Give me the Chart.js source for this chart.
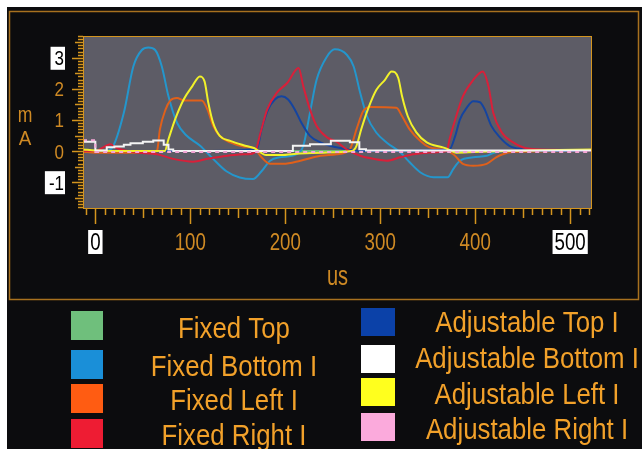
<!DOCTYPE html>
<html>
<head>
<meta charset="utf-8">
<script src="https://cdn.jsdelivr.net/npm/chart.js@4/dist/chart.umd.min.js"></script>
<style>
  html, body { margin: 0; padding: 0; background: #fff; }
  canvas { display: block; }
</style>
</head>
<body>
<canvas id="scope" width="644" height="449"></canvas>
<script>
// --- data (time in us, current in mA) ---
const seriesNames = [
  'Fixed Top', 'Fixed Bottom I', 'Fixed Left I', 'Fixed Right I',
  'Adjustable Top I', 'Adjustable Bottom I', 'Adjustable Left I', 'Adjustable Right I'
];

const fixedTopX = [-13, 0, 523];
const fixedTopY = [0.05, 0, 0];

const fixedBottomX = [-13, 0, 10, 18, 30, 40, 49, 56, 63, 70, 77, 86, 96, 110, 124, 138, 152, 166, 175, 184,
  194, 212, 219, 226, 233, 244, 252, 265, 272, 279, 286, 296, 307, 321, 331, 342, 356, 371, 377, 384,
  398, 412, 419, 430, 523];
const fixedBottomY = [0, 0, 0, 0.12, 1.23, 2.72, 3.25, 3.33, 3.25, 2.72, 1.76, 0.91, 0.5, 0.18, -0.25, -0.65, -0.85, -0.9, -0.65, -0.31,
  -0.2, -0.1, 0.17, 1.23, 2.29, 3.04, 3.27, 3.09, 2.72, 1.86, 1.12, 0.59, 0.27, -0.04, -0.36, -0.68, -0.84, -0.84, -0.57, -0.31,
  -0.2, -0.15, -0.06, 0, 0];

const fixedLeftX = [-13, 0, 20, 40, 60, 65, 68, 74, 79, 86, 93, 112, 118, 124, 131, 142, 156, 167, 175, 184,
  198, 216, 237, 254, 268, 275, 282, 289, 317, 323, 331, 342, 352, 366, 377, 387, 398, 412, 422, 429, 440, 523];
const fixedLeftY = [-0.02, -0.05, -0.05, -0.05, -0.05, 0.02, 0.7, 1.34, 1.63, 1.71, 1.63, 1.63, 1.34, 0.81, 0.49, 0.28, 0.15, 0.09, -0.2, -0.41,
  -0.41, -0.31, -0.15, -0.1, 0.06, 0.7, 1.28, 1.42, 1.39, 1.12, 0.7, 0.33, 0.12, 0.06, -0.1, -0.41, -0.47, -0.41, -0.2, -0.1, -0.03, 0];

const fixedRightX = [-13, 0, 5, 12, 16, 21, 30, 45, 65, 82, 103, 118, 139, 160, 168, 174, 181, 191, 202, 214,
  219, 226, 233, 244, 254, 265, 279, 293, 307, 321, 335, 350, 370, 373, 380, 387, 398, 408, 414, 419,
  428, 440, 454, 482, 523];
const fixedRightY = [0, 0, 0.06, 0.18, 0.22, 0.12, 0.03, -0.05, -0.1, -0.25, -0.34, -0.25, -0.15, -0.1, -0.04, 0.6, 1.34, 1.87, 2.19, 2.67,
  2.08, 1.34, 0.81, 0.44, 0.3, 0.05, -0.15, -0.25, -0.31, -0.2, -0.1, -0.05, 0, 0.38, 1.12, 1.76, 2.29, 2.56, 2.08, 1.23,
  0.6, 0.28, 0.09, 0.04, 0.02];

const adjTopX = [-13, 0, 100, 170, 175, 182, 189, 196, 203, 210, 217, 226, 237, 247, 258, 280, 373, 379, 384, 391,
  398, 405, 410, 417, 426, 436, 450, 480, 523];
const adjTopY = [0, 0, 0, 0.06, 0.7, 1.34, 1.66, 1.76, 1.66, 1.34, 0.91, 0.49, 0.28, 0.17, 0.1, 0, 0.06, 0.49, 1.02, 1.39,
  1.6, 1.57, 1.34, 0.81, 0.44, 0.17, 0.06, 0, 0];

// stepped trace: each value holds until the next x
const adjBottomX = [-13, 0, 12, 20, 30, 37, 50, 61, 72, 77, 82, 200, 208, 226, 248, 268, 278, 285, 523];
const adjBottomY = [0.3, 0.02, 0.12, 0.15, 0.2, 0.25, 0.3, 0.34, 0.2, 0.05, 0, 0, 0.17, 0.22, 0.33, 0.28, 0.06, 0.02, 0.02];

const adjLeftX = [-13, 0, 40, 73, 77, 84, 93, 102, 110, 115, 119, 124, 131, 142, 156, 167, 180, 195, 215, 240,
  270, 275, 280, 287, 296, 305, 312, 319, 323, 329, 338, 349, 366, 373, 380, 400, 470, 523];
const adjLeftY = [0.05, 0.02, 0, 0, 0.38, 1.02, 1.66, 2.08, 2.4, 2.24, 1.55, 0.91, 0.49, 0.33, 0.19, 0.1, -0.13, -0.13, -0.08, -0.05,
  0, 0.17, 0.7, 1.34, 1.97, 2.29, 2.56, 2.35, 1.76, 1.12, 0.6, 0.28, 0.12, 0.04, -0.05, -0.03, 0.03, 0.05];

const adjRightX = [-13, 0, 523];
const adjRightY = [0.35, -0.03, -0.03];

const xTickValues = [0, 100, 200, 300, 400, 500];
const yTickValues = [-1, 0, 1, 2, 3];
const boxedX = [0, 500];
const boxedY = [-1, 3];

// --- styles ---
const ORANGE = '#cf8a24';
const RULER = '#d4951f';
const LEGEND_TEXT = '#f2a12a';
const FONT = '"Liberation Sans", Arial, sans-serif';

const lineColors = ['#6cbf78', '#2496cc', '#e0601a', '#d8203a', '#1444a0', '#f4f4f4', '#f2f22a', '#f4a6d6'];
const swatchColors = ['#6fbf7c', '#1a8fd8', '#ff5c12', '#ee1c33', '#0b41a8', '#ffffff', '#ffff1e', '#fbaadc'];
// lower = drawn on top
const drawOrder = [8, 7, 6, 4, 5, 2, 3, 1];

function pts(xs, ys) {
  return xs.map((x, i) => ({ x: x, y: ys[i] }));
}

const allX = [fixedTopX, fixedBottomX, fixedLeftX, fixedRightX, adjTopX, adjBottomX, adjLeftX, adjRightX];
const allY = [fixedTopY, fixedBottomY, fixedLeftY, fixedRightY, adjTopY, adjBottomY, adjLeftY, adjRightY];

const datasets = seriesNames.map((name, i) => ({
  label: name,
  data: pts(allX[i], allY[i]),
  borderColor: lineColors[i],
  backgroundColor: swatchColors[i],
  borderWidth: 2,
  order: drawOrder[i],
  stepped: (i === 5 || i === 7) ? 'before' : false,
  borderDash: i === 7 ? [4, 4] : []
}));

// legend layout (two columns of four)
const legendLayout = {
  swatchX: [71, 361], swatchW: [32, 34],
  swatchTop: [[311, 350, 384, 419], [308, 345, 378, 413]],
  swatchH: [29, 28],
  textX: [234, 527],
  baseline: [[338, 376, 410, 445], [332, 368, 404, 439]]
};

// the scope font is a condensed one; squeeze Liberation Sans horizontally
function narrowText(ctx, text, x, y, size, squeeze, align) {
  ctx.save();
  ctx.font = size + 'px ' + FONT;
  ctx.textAlign = align || 'center';
  ctx.textBaseline = 'alphabetic';
  ctx.translate(x, y);
  ctx.scale(squeeze, 1);
  ctx.fillText(text, 0, 0);
  ctx.restore();
}

function narrowWidth(ctx, text, size, squeeze) {
  ctx.save();
  ctx.font = size + 'px ' + FONT;
  const w = ctx.measureText(text).width * squeeze;
  ctx.restore();
  return w;
}

const scopePlugin = {
  id: 'scope',
  beforeDraw(chart) {
    const { ctx, chartArea: a, width, height } = chart;
    ctx.save();
    ctx.fillStyle = '#ffffff';
    ctx.fillRect(0, 0, width, height);
    ctx.fillStyle = '#0c0c0e';
    ctx.fillRect(7, 7, 635, height - 7);
    ctx.strokeStyle = '#a8711f';
    ctx.lineWidth = 1.5;
    ctx.strokeRect(9.5, 11.5, 629, 288);
    ctx.fillStyle = '#5d5c66';
    ctx.fillRect(a.left, a.top, a.right - a.left, a.bottom - a.top);
    ctx.restore();
  },
  afterDraw(chart) {
    const { ctx, chartArea: a } = chart;
    const xs = chart.scales.x, ys = chart.scales.y;
    ctx.save();
    // plot frame
    ctx.strokeStyle = RULER;
    ctx.lineWidth = 1;
    ctx.strokeRect(a.left + 0.5, a.top + 0.5, a.right - a.left - 1, a.bottom - a.top);

    // x ruler, every 10 us
    ctx.beginPath();
    for (let v = -10; v <= 520; v += 10) {
      const px = Math.round(xs.getPixelForValue(v)) + 0.5;
      const len = v % 100 === 0 ? 16 : (v % 50 === 0 ? 10 : 7);
      ctx.moveTo(px, a.bottom);
      ctx.lineTo(px, a.bottom + len);
    }
    // y ruler, every 0.1 mA
    for (let k = -18; k <= 37; k++) {
      const py = Math.round(ys.getPixelForValue(k / 10)) + 0.5;
      const len = k % 10 === 0 ? 11 : (k % 5 === 0 ? 8 : 5);
      ctx.moveTo(a.left, py);
      ctx.lineTo(a.left - len, py);
    }
    ctx.lineWidth = 1.5;
    ctx.stroke();

    // x tick labels from the scale's ticks
    xs.ticks.forEach(t => {
      const label = String(t.value);
      const cx = xs.getPixelForValue(t.value);
      if (boxedX.includes(t.value)) {
        const w = narrowWidth(ctx, label, 24, 0.78);
        ctx.fillStyle = '#ffffff';
        ctx.fillRect(cx - w / 2 - 2, 230, w + 4, 24);
        ctx.fillStyle = '#000000';
      } else {
        ctx.fillStyle = ORANGE;
      }
      narrowText(ctx, label, cx, 250, 24, 0.78);
    });

    // y tick labels
    ys.ticks.forEach(t => {
      const label = String(t.value);
      const cy = ys.getPixelForValue(t.value);
      if (boxedY.includes(t.value)) {
        const w = narrowWidth(ctx, label, 20, 0.85);
        ctx.fillStyle = '#ffffff';
        ctx.fillRect(63 - w - 3, cy - 11, w + 5, 23);
        ctx.fillStyle = '#000000';
      } else {
        ctx.fillStyle = ORANGE;
      }
      narrowText(ctx, label, 64, cy + 7.5, 20, 0.85, 'right');
    });

    // axis units
    ctx.fillStyle = ORANGE;
    narrowText(ctx, 'us', (a.left + a.right) / 2, 285, 27, 0.74);
    narrowText(ctx, 'm', 25, 122, 22, 0.8);
    narrowText(ctx, 'A', 25, 145, 21, 0.9);

    // legend
    chart.data.datasets.forEach((ds, i) => {
      const col = i < 4 ? 0 : 1, row = i % 4;
      const L = legendLayout;
      ctx.fillStyle = ds.backgroundColor;
      ctx.fillRect(L.swatchX[col], L.swatchTop[col][row], L.swatchW[col], L.swatchH[col]);
      ctx.fillStyle = LEGEND_TEXT;
      narrowText(ctx, ds.label, L.textX[col], L.baseline[col][row], 30, 0.86);
    });
    ctx.restore();
  }
};

new Chart(document.getElementById('scope'), {
  type: 'line',
  data: { datasets: datasets },
  options: {
    responsive: false,
    animation: false,
    layout: { padding: { left: 0, top: 36, right: 52, bottom: 149 } },
    elements: {
      point: { radius: 0 },
      line: { cubicInterpolationMode: 'monotone' }
    },
    plugins: {
      legend: { display: false },
      tooltip: { enabled: false }
    },
    scales: {
      x: {
        type: 'linear',
        min: -13,
        max: 523,
        afterBuildTicks: s => { s.ticks = xTickValues.map(v => ({ value: v })); },
        afterFit: s => { s.height = 92; },
        grid: { display: false, drawTicks: false },
        border: { display: false },
        ticks: { display: false }
      },
      y: {
        min: -1.83,
        max: 3.7,
        afterBuildTicks: s => { s.ticks = yTickValues.map(v => ({ value: v })); },
        afterFit: s => { s.width = 83; },
        grid: { display: false, drawTicks: false },
        border: { display: false },
        ticks: { display: false }
      }
    }
  },
  plugins: [scopePlugin]
});
</script>
</body>
</html>
